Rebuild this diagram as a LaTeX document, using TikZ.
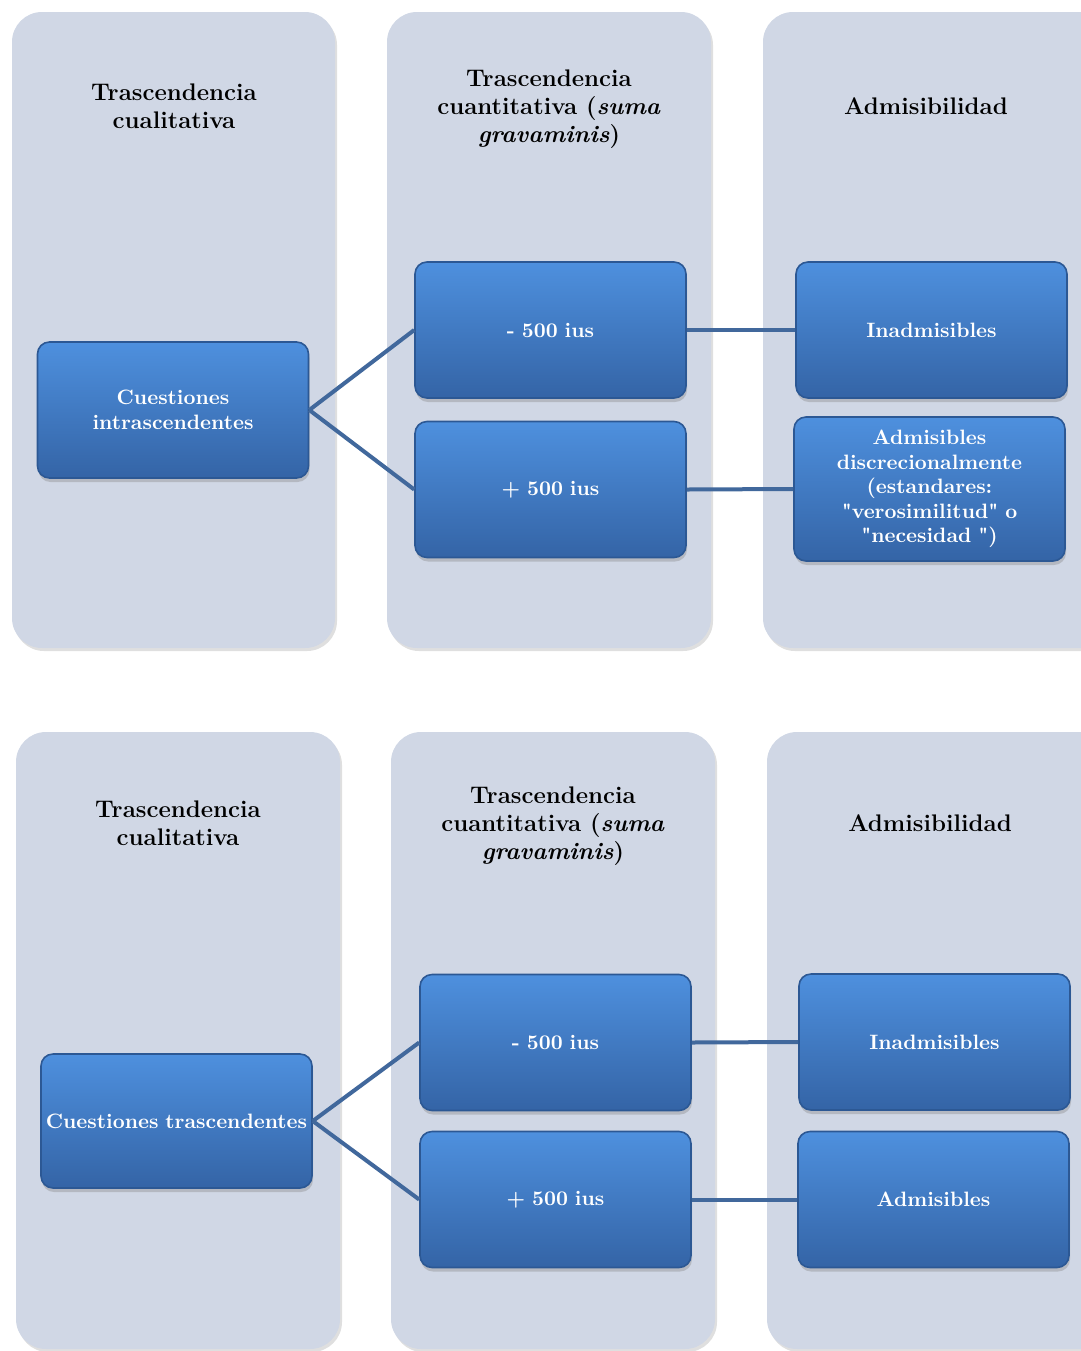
\documentclass[tikz,border=0pt]{standalone}
\usepackage{tikz}
\usetikzlibrary{shadows}
\usepackage{xcolor}
\definecolor{fondocol}{RGB}{208,215,229}
\definecolor{cajaarriba}{RGB}{78,144,222}
\definecolor{cajamedio}{RGB}{63,126,205}
\definecolor{cajaabajo}{RGB}{52,100,166}
\definecolor{cajaborde}{RGB}{44,88,148}
\definecolor{enlaceazul}{RGB}{65,104,156}
\tikzset{
    columna/.style={fill=fondocol, draw=none, rounded corners=15pt,
        drop shadow={shadow xshift=1pt, shadow yshift=-1.5pt, opacity=0.25}},
    caja/.style={draw=cajaborde, line width=0.8pt, top color=cajaarriba, middle color=cajamedio,
        bottom color=cajaabajo, rounded corners=6pt, minimum width=135.5pt, minimum height=68pt,
        text width=134pt, inner sep=0.75pt, align=center, text=white,
        font=\fontsize{10.4}{12.2}\selectfont\bfseries,
        drop shadow={shadow xshift=0.5pt, shadow yshift=-2pt, opacity=0.35}},
    titulo/.style={align=center, font=\fontsize{12}{14}\selectfont\bfseries},
    enlace/.style={draw=enlaceazul, line width=2pt}
}

\begin{document}
\begin{tikzpicture}[x=0.5pt, y=-0.5pt]
    \useasboundingbox (0,0) rectangle (1081,1351);
    \clip (0,0) rectangle (1081,1351);

    % columnas de fondo
    \path[columna] (12,12) rectangle (335,648);
    \path[columna] (387,12) rectangle (711,648);
    \path[columna] (763,12) rectangle (1120,648);
    \path[columna] (16,732) rectangle (340,1349);
    \path[columna] (391,732) rectangle (715,1349);
    \path[columna] (767,732) rectangle (1120,1349);

    % titulos
    \node[titulo] (tcualA) at (174,106) {Trascendencia\\cualitativa};
    \node[titulo] (tcuanA) at (549,109) {Trascendencia\\cuantitativa (\textit{suma}\\\textit{gravaminis})};
    \node[titulo] (tadmA) at (926,106) {Admisibilidad};
    \node[titulo] (tcualB) at (178,823) {Trascendencia\\cualitativa};
    \node[titulo] (tcuanB) at (553,826) {Trascendencia\\cuantitativa (\textit{suma}\\\textit{gravaminis})};
    \node[titulo] (tadmB) at (930,823) {Admisibilidad};

    % primer esquema
    \node[caja] (cuesI) at (173,410) {Cuestiones\\intrascendentes};
    \node[caja] (menosA) at (550.5,330) {- 500 ius};
    \node[caja] (masA) at (550.5,489.5) {+ 500 ius};
    \node[caja] (inadA) at (931.5,330) {Inadmisibles};
    \node[caja, minimum height=72pt] (admA) at (929.5,489) {Admisibles\\discrecionalmente\\(estandares:\\\textquotedbl verosimilitud\textquotedbl\ o\\\textquotedbl necesidad \textquotedbl)};

    \draw[enlace] (cuesI.east) -- (menosA.west);
    \draw[enlace] (cuesI.east) -- (masA.west);
    \draw[enlace] (menosA.east) -- (inadA.west);
    \draw[enlace] (masA.east) -- (admA.west);

    % segundo esquema
    \node[caja, minimum height=67pt] (cuesT) at (176.5,1121) {Cuestiones trascendentes};
    \node[caja] (menosB) at (555.5,1042.5) {- 500 ius};
    \node[caja] (masB) at (555.5,1199.5) {+ 500 ius};
    \node[caja] (inadB) at (934.5,1042) {Inadmisibles};
    \node[caja] (admB) at (933.5,1199.5) {Admisibles};

    \draw[enlace] (cuesT.east) -- (menosB.west);
    \draw[enlace] (cuesT.east) -- (masB.west);
    \draw[enlace] (menosB.east) -- (inadB.west);
    \draw[enlace] (masB.east) -- (admB.west);
\end{tikzpicture}
\end{document}
